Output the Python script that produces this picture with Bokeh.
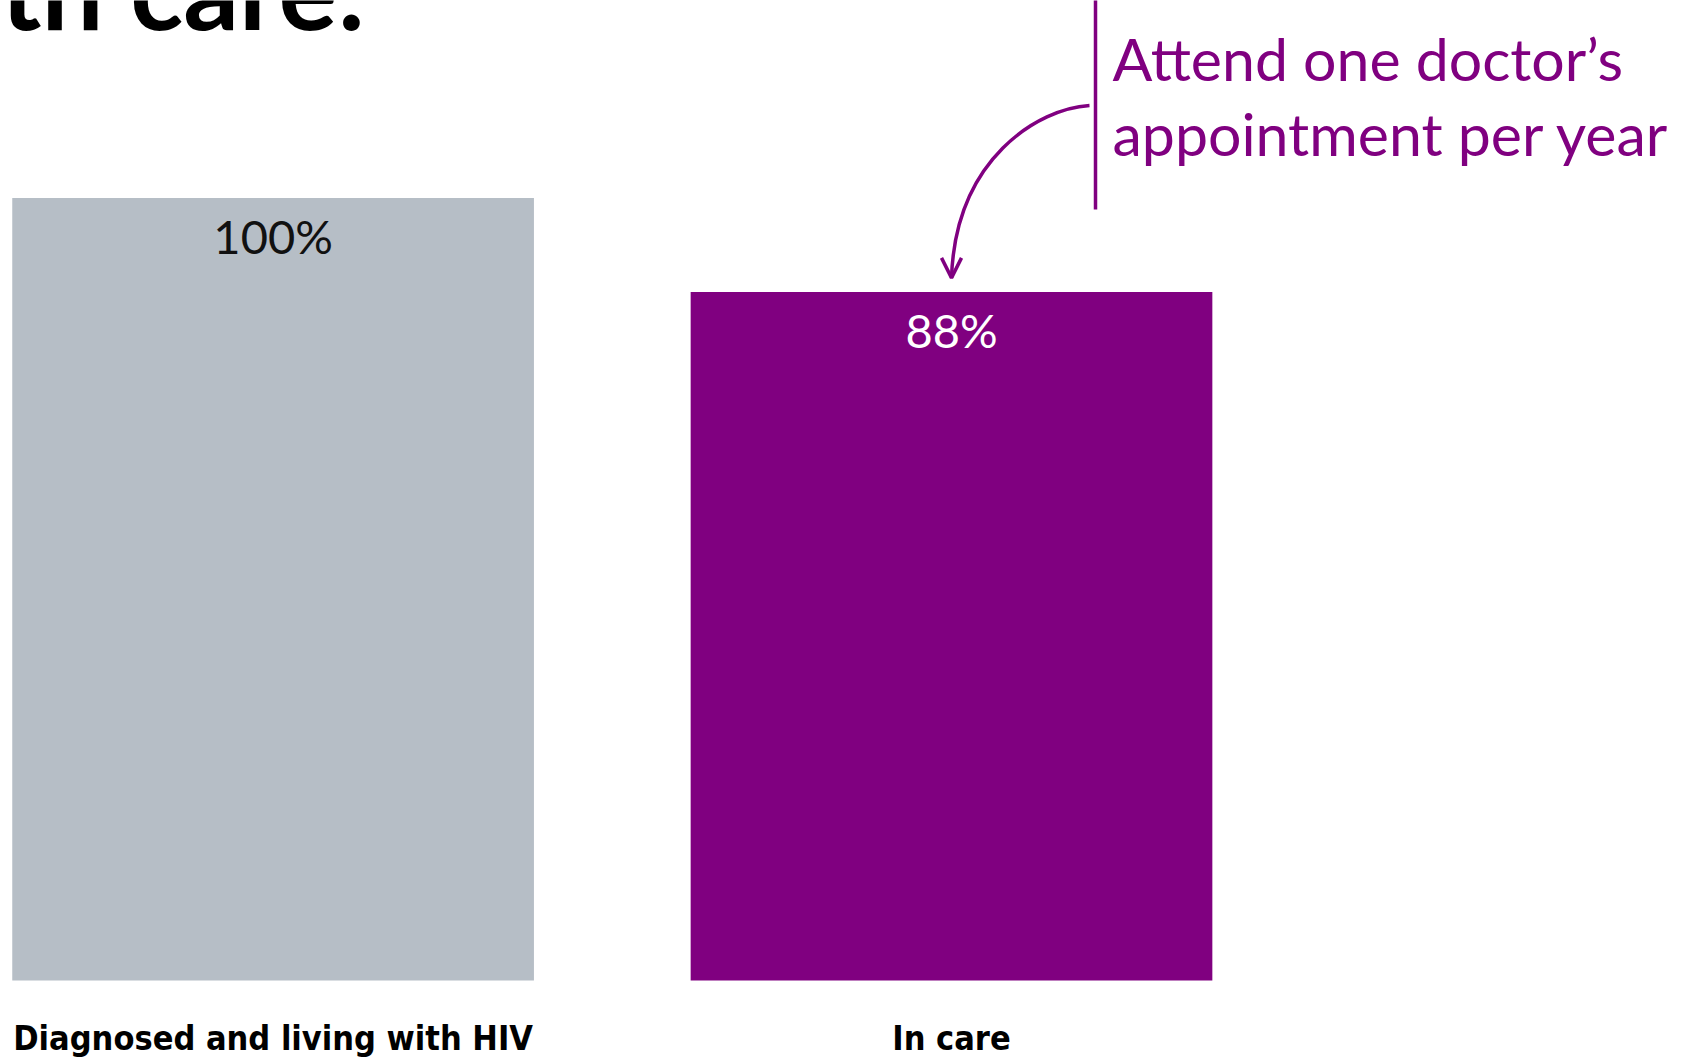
import numpy as np
from bokeh.plotting import figure
from bokeh.models import Range1d, Arrow, OpenHead, ColumnDataSource
from bokeh.core.properties import value
from bokeh.embed import file_html
from bokeh.resources import INLINE

categories = ["Diagnosed and living with HIV", "In care"]
percent = [100, 88]
bar_colors = ["#B6BEC6", "#800080"]
label_colors = ["#111111", "#FFFFFF"]
value_labels = [f"{v}%" for v in percent]
title_text = "th care:"
note_lines = ["Attend one doctor\u2019s", "appointment per year"]

PURPLE = "#800080"
W, H = 1683, 1062
PX_X = 678.4          # px per category step
PX_Y = 7.825          # px per percent
x0 = -272.6 / PX_X
y_top = 980 / PX_Y

def dx(px):
    return x0 + px / PX_X

def dy(py):
    return y_top - py / PX_Y

p = figure(width=W, height=H, output_backend="svg", toolbar_location=None,
           x_range=Range1d(x0, x0 + W / PX_X), y_range=Range1d(y_top - H / PX_Y, y_top),
           min_border=0, outline_line_color=None)
p.axis.visible = False
p.grid.visible = False
p.background_fill_color = "white"
p.border_fill_color = "white"

xs = np.arange(len(categories))
src = ColumnDataSource(dict(x=xs, top=percent, color=bar_colors, lab=value_labels,
                            lab_y=[v - 38 / PX_Y for v in percent], lab_col=label_colors,
                            cat=categories, cat_y=[dy(1037)] * len(categories)))

p.vbar(x="x", top="top", bottom=0, width=0.769, color="color", line_color=None, source=src)

p.text(x="x", y="lab_y", text="lab", text_color="lab_col", source=src,
       text_align="center", text_baseline="middle",
       text_font=value("Lato"), text_font_size="47px")

p.text(x="x", y="cat_y", text="cat", source=src, text_color="black",
       text_align="center", text_baseline="middle",
       text_font=value("DejaVu Sans Condensed"), text_font_style="bold",
       text_font_size="34px")

# title (cut off at the top, as in the slide)
p.text(x=[dx(0)], y=[dy(-14)], text=[title_text], text_color="black",
       text_align="left", text_baseline="alphabetic",
       text_font=value("Lato"), text_font_style="bold", text_font_size="110px")

# annotation
p.segment(x0=[dx(1095)], y0=[dy(-5)], x1=[dx(1095)], y1=[dy(209)],
          line_color=PURPLE, line_width=3.5)
p.text(x=[dx(1112)] * 2, y=[dy(58), dy(133)], text=note_lines, text_color=PURPLE,
       text_align="left", text_baseline="alphabetic",
       text_font=value("Lato"), text_font_size="59px")

tip_y = percent[1] + 14 / PX_Y
p.bezier(x0=[dx(1089)], y0=[dy(105)], x1=[xs[1]], y1=[tip_y],
         cx0=[dx(1038)], cy0=[dy(108)], cx1=[dx(955)], cy1=[dy(158)],
         line_color=PURPLE, line_width=3.5)
p.add_layout(Arrow(end=OpenHead(size=20, line_color=PURPLE, line_width=3.5),
                   x_start=xs[1], y_start=tip_y + 3, x_end=xs[1], y_end=tip_y,
                   line_alpha=0))

open("out.html", "w").write(file_html(p, INLINE))
